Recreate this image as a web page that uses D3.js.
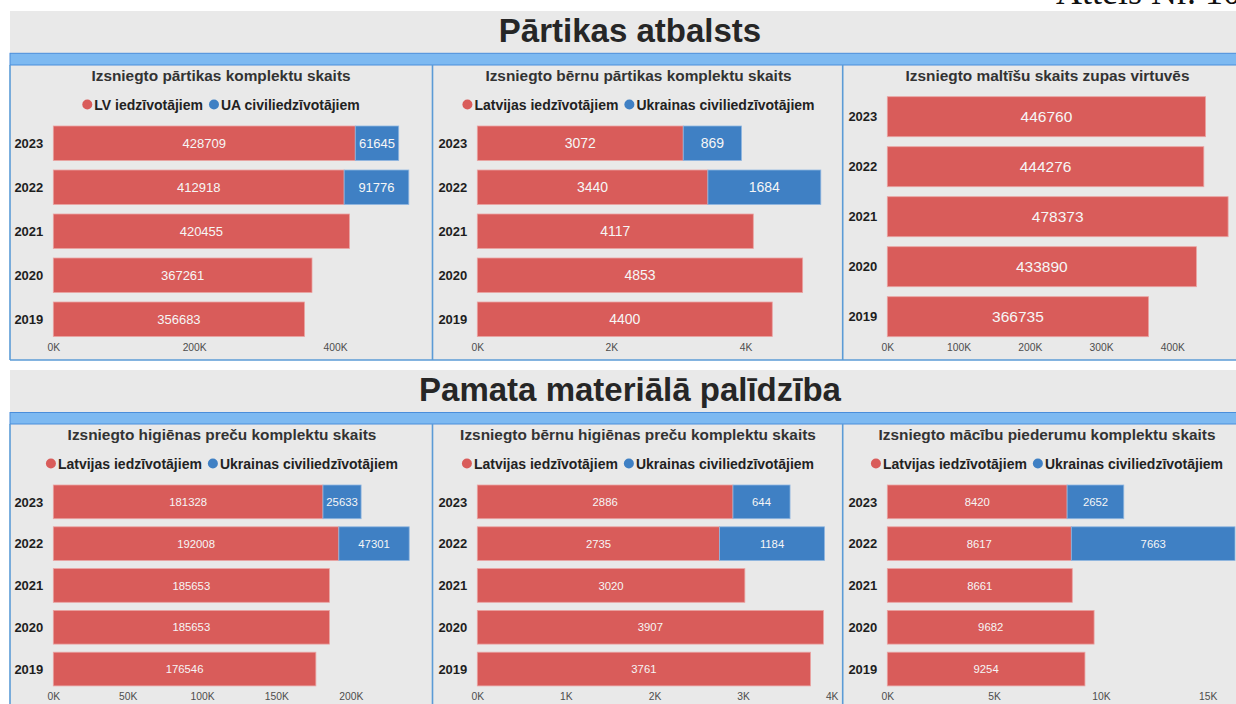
<!DOCTYPE html>
<html>
<head>
<meta charset="utf-8">
<script src="https://cdn.jsdelivr.net/npm/d3@7"></script>
<style>
  html, body { margin: 0; padding: 0; background: #ffffff; }
  svg { display: block; font-family: "Liberation Sans", Arial, sans-serif; }
</style>
</head>
<body>
<svg id="chart" width="1236" height="704"></svg>
<script>
// ---------------- DATA ----------------
const years = ["2023", "2022", "2021", "2020", "2019"];

const foodLV = [428709, 412918, 420455, 367261, 356683];
const foodUA = [61645, 91776, 0, 0, 0];
const childFoodLV = [3072, 3440, 4117, 4853, 4400];
const childFoodUA = [869, 1684, 0, 0, 0];
const mealsLV = [446760, 444276, 478373, 433890, 366735];
const mealsUA = [0, 0, 0, 0, 0];
const hygieneLV = [181328, 192008, 185653, 185653, 176546];
const hygieneUA = [25633, 47301, 0, 0, 0];
const childHygieneLV = [2886, 2735, 3020, 3907, 3761];
const childHygieneUA = [644, 1184, 0, 0, 0];
const schoolLV = [8420, 8617, 8661, 9682, 9254];
const schoolUA = [2652, 7663, 0, 0, 0];

const foodTicks = [0, 200000, 400000];
const childFoodTicks = [0, 2000, 4000];
const mealsTicks = [0, 100000, 200000, 300000, 400000];
const hygieneTicks = [0, 50000, 100000, 150000, 200000];
const childHygieneTicks = [0, 1000, 2000, 3000, 4000];
const schoolTicks = [0, 5000, 10000, 15000];

const sectionTitles = ["Pārtikas atbalsts", "Pamata materiālā palīdzība"];
const panelTitles = [
  "Izsniegto pārtikas komplektu skaits",
  "Izsniegto bērnu pārtikas komplektu skaits",
  "Izsniegto maltīšu skaits zupas virtuvēs",
  "Izsniegto higiēnas preču komplektu skaits",
  "Izsniegto bērnu higiēnas preču komplektu skaits",
  "Izsniegto mācību piederumu komplektu skaits"
];
const legendShort = ["LV iedzīvotājiem", "UA civiliedzīvotājiem"];
const legendLong = ["Latvijas iedzīvotājiem", "Ukrainas civiliedzīvotājiem"];
const figureCaption = "Attēls Nr. 10";

// ---------------- STYLE / LAYOUT ----------------
const RED = "#d95c5a";
const BLUE = "#3f80c4";
const GRAY = "#e9e9e9";
const LINE = "#5b9bd6";
const STRIP = "#7db9f1";
const STRIP_EDGE = "#4a8edb";

const svg = d3.select("#chart");

// caption (cut off at the top edge, as in the reference)
svg.append("text")
  .attr("x", 1056).attr("y", 4)
  .attr("font-family", "'Liberation Serif', 'Times New Roman', serif")
  .attr("font-size", 36).attr("fill", "#111")
  .text(figureCaption);

const sections = [
  { top: 11, bottom: 360, stripTop: 53.3, stripBottom: 65, titleY: 41.7 },
  { top: 370, bottom: 710, stripTop: 412.5, stripBottom: 424, titleY: 400.5 }
];

sections.forEach((s, i) => {
  svg.append("rect").attr("x", 10).attr("y", s.top)
    .attr("width", 1240).attr("height", s.bottom - s.top).attr("fill", GRAY);
  svg.append("text").attr("x", 630).attr("y", s.titleY)
    .attr("text-anchor", "middle").attr("font-size", 33).attr("font-weight", "bold")
    .attr("fill", "#262626").text(sectionTitles[i]);
  svg.append("rect").attr("x", 10).attr("y", s.stripTop)
    .attr("width", 1240).attr("height", s.stripBottom - s.stripTop)
    .attr("fill", STRIP).attr("stroke", STRIP_EDGE).attr("stroke-width", 1);
  [10, 432.5, 842.7].forEach(x => {
    svg.append("line").attr("x1", x).attr("x2", x)
      .attr("y1", s.stripBottom).attr("y2", s.bottom)
      .attr("stroke", LINE).attr("stroke-width", 1.6);
  });
  svg.append("line").attr("x1", 10).attr("x2", 1240)
    .attr("y1", s.bottom).attr("y2", s.bottom)
    .attr("stroke", LINE).attr("stroke-width", 1.6);
});

const fmtK = d => (d / 1000) + "K";

const panels = [
  { title: panelTitles[0], legend: legendShort, lv: foodLV, ua: foodUA, ticks: foodTicks,
    cx: 221, x0: 53.3, w: 355.5, band: [121.25, 341.25, 0.216], valFont: 13,
    titleY: 81, legendY: 104.5, tickY: 350.5 },
  { title: panelTitles[1], legend: legendLong, lv: childFoodLV, ua: childFoodUA, ticks: childFoodTicks,
    cx: 638.5, x0: 477.3, w: 343.5, band: [121.25, 341.25, 0.216], valFont: 14,
    titleY: 81, legendY: 104.5, tickY: 350.5 },
  { title: panelTitles[2], legend: null, lv: mealsLV, ua: mealsUA, ticks: mealsTicks,
    cx: 1047.5, x0: 887.3, w: 340.8, band: [91.7, 341.7, 0.2], valFont: 15.5,
    titleY: 81, legendY: null, tickY: 350.5 },
  { title: panelTitles[3], legend: legendLong, lv: hygieneLV, ua: hygieneUA, ticks: hygieneTicks,
    cx: 222, x0: 53.3, w: 355.9, band: [480.95, 689.95, 0.194], valFont: 11.3,
    titleY: 440, legendY: 463.5, tickY: 700 },
  { title: panelTitles[4], legend: legendLong, lv: childHygieneLV, ua: childHygieneUA, ticks: childHygieneTicks,
    cx: 638, x0: 477.3, w: 347.2, band: [480.95, 689.95, 0.194], valFont: 11.3,
    titleY: 440, legendY: 463.5, tickY: 700 },
  { title: panelTitles[5], legend: legendLong, lv: schoolLV, ua: schoolUA, ticks: schoolTicks,
    cx: 1047, x0: 887.3, w: 347.7, band: [480.95, 689.95, 0.194], valFont: 11.3,
    titleY: 440, legendY: 463.5, tickY: 700 }
];

panels.forEach(p => {
  const g = svg.append("g");
  const totals = p.lv.map((v, i) => v + p.ua[i]);
  const x = d3.scaleLinear().domain([0, d3.max(totals)]).range([p.x0, p.x0 + p.w]);
  const y = d3.scaleBand().domain(years).range([p.band[0], p.band[1]])
    .paddingInner(p.band[2]).paddingOuter(p.band[2] / 2);

  // title
  g.append("text").attr("x", p.cx).attr("y", p.titleY)
    .attr("text-anchor", "middle").attr("font-size", 15.4).attr("font-weight", "bold")
    .attr("fill", "#333").text(p.title);

  // legend
  if (p.legend) {
    const lg = g.append("g");
    let cur = 0;
    const colors = [RED, BLUE];
    p.legend.forEach((lab, i) => {
      lg.append("circle").attr("cx", cur + 5).attr("cy", p.legendY).attr("r", 5)
        .attr("fill", colors[i]);
      const t = lg.append("text").attr("x", cur + 12).attr("y", p.legendY + 5)
        .attr("font-size", 14).attr("font-weight", "bold").attr("fill", "#222").text(lab);
      cur += 12 + t.node().getComputedTextLength() + 6;
    });
    const totalW = cur - 6;
    lg.attr("transform", `translate(${p.cx - totalW / 2},0)`);
  }

  // bars
  const rows = years.map((yr, i) => ({ yr, lv: p.lv[i], ua: p.ua[i] }));
  rows.forEach(r => {
    const yy = y(r.yr), h = y.bandwidth();
    g.append("rect").attr("x", x(0)).attr("y", yy)
      .attr("width", x(r.lv) - x(0)).attr("height", h)
      .attr("fill", RED).attr("stroke", "#eaa3a2").attr("stroke-width", 0.8);
    g.append("text").attr("x", (x(0) + x(r.lv)) / 2).attr("y", yy + h / 2)
      .attr("dy", "0.36em").attr("text-anchor", "middle")
      .attr("font-size", p.valFont).attr("fill", "#f6f6f6").text(r.lv);
    if (r.ua > 0) {
      g.append("rect").attr("x", x(r.lv)).attr("y", yy)
        .attr("width", x(r.lv + r.ua) - x(r.lv)).attr("height", h)
        .attr("fill", BLUE).attr("stroke", "#8fb6e0").attr("stroke-width", 0.8);
      g.append("text").attr("x", (x(r.lv) + x(r.lv + r.ua)) / 2).attr("y", yy + h / 2)
        .attr("dy", "0.36em").attr("text-anchor", "middle")
        .attr("font-size", p.valFont).attr("fill", "#f6f6f6").text(r.ua);
    }
    // year label
    g.append("text").attr("x", p.x0 - 10).attr("y", yy + h / 2)
      .attr("dy", "0.36em").attr("text-anchor", "end")
      .attr("font-size", 13).attr("font-weight", "bold").attr("fill", "#1e1e1e").text(r.yr);
  });

  // x axis
  const ax = g.append("g").attr("transform", `translate(0,${p.tickY})`)
    .call(d3.axisBottom(x).tickValues(p.ticks).tickFormat(fmtK).tickSize(0).tickPadding(0));
  ax.select(".domain").remove();
  ax.selectAll("text").attr("dy", null).attr("y", 0)
    .attr("font-size", 10.3).attr("fill", "#4d4d4d")
    .attr("font-family", "'Liberation Sans', Arial, sans-serif");
});
</script>
</body>
</html>
